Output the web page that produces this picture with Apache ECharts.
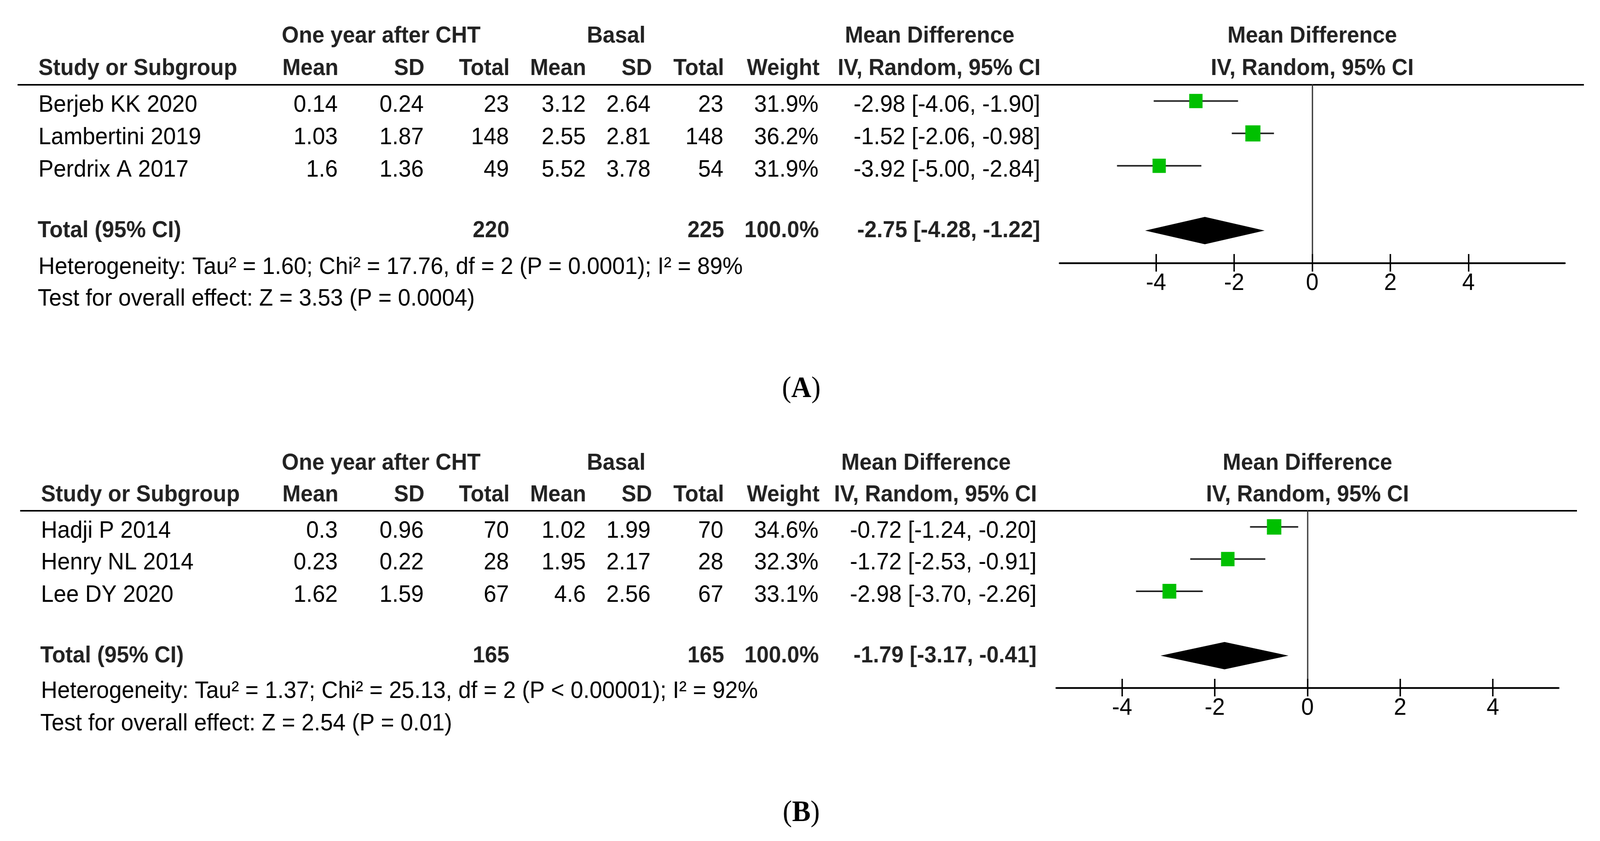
<!DOCTYPE html>
<html>
<head>
<meta charset="utf-8">
<script src="https://cdn.jsdelivr.net/npm/echarts@6/dist/echarts.min.js"></script>
<style>
html,body{margin:0;padding:0;background:#fff;overflow:hidden;}
#wrap{position:absolute;left:0;top:0;overflow:hidden;background:#fff;}
#c{position:absolute;left:0;top:0;width:4373px;height:2152px;transform-origin:0 0;}
</style>
</head>
<body>
<div id="wrap"><div id="c"></div></div>
<script>
// ---------------- DATA ----------------
// Panel A
const studiesA = ['Berjeb KK 2020', 'Lambertini 2019', 'Perdrix A 2017'];
const expMeanA = [0.14, 1.03, 1.6];
const expSDA = [0.24, 1.87, 1.36];
const expTotalA = [23, 148, 49];
const ctlMeanA = [3.12, 2.55, 5.52];
const ctlSDA = [2.64, 2.81, 3.78];
const ctlTotalA = [23, 148, 54];
const weightA = [31.9, 36.2, 31.9];
const mdA = [-2.98, -1.52, -3.92];
const loA = [-4.06, -2.06, -5.00];
const hiA = [-1.90, -0.98, -2.84];
const totalA = { exp: 220, ctl: 225, weight: 100.0, md: -2.75, lo: -4.28, hi: -1.22 };
const hetA = 'Heterogeneity: Tau\u00B2 = 1.60; Chi\u00B2 = 17.76, df = 2 (P = 0.0001); I\u00B2 = 89%';
const testA = 'Test for overall effect: Z = 3.53 (P = 0.0004)';

// Panel B
const studiesB = ['Hadji P 2014', 'Henry NL 2014', 'Lee DY 2020'];
const expMeanB = [0.3, 0.23, 1.62];
const expSDB = [0.96, 0.22, 1.59];
const expTotalB = [70, 28, 67];
const ctlMeanB = [1.02, 1.95, 4.6];
const ctlSDB = [1.99, 2.17, 2.56];
const ctlTotalB = [70, 28, 67];
const weightB = [34.6, 32.3, 33.1];
const mdB = [-0.72, -1.72, -2.98];
const loB = [-1.24, -2.53, -3.70];
const hiB = [-0.20, -0.91, -2.26];
const totalB = { exp: 165, ctl: 165, weight: 100.0, md: -1.79, lo: -3.17, hi: -0.41 };
const hetB = 'Heterogeneity: Tau\u00B2 = 1.37; Chi\u00B2 = 25.13, df = 2 (P < 0.00001); I\u00B2 = 92%';
const testB = 'Test for overall effect: Z = 2.54 (P = 0.01)';

// Axis ticks / labels
const axisTicks = [-4, -2, 0, 2, 4];
const axisRangeA = [-6.47, 6.47];
const axisRangeB = [-5.42, 5.42];

const headTop = ['One year after CHT', 'Basal', 'Mean Difference', 'Mean Difference'];
const headCols = ['Study or Subgroup', 'Mean', 'SD', 'Total', 'Mean', 'SD', 'Total', 'Weight', 'IV, Random, 95% CI', 'IV, Random, 95% CI'];
const totalLabel = 'Total (95% CI)';
const panelLabels = ['A', 'B'];

// ---------------- LAYOUT / STYLE ----------------
const W0 = 4373, H0 = 2152;
const vw = window.innerWidth || W0, vh = window.innerHeight || H0;
const SX = vw / W0, SY = vh / H0;   // fit the 4373x2152 design into the actual viewport

const FONT = '"Liberation Sans", Arial, Helvetica, sans-serif';
const SERIF = '"Liberation Serif", "Times New Roman", serif';
const NORMAL = '62px ' + FONT;
const BOLD = 'bold 60px ' + FONT;
const HEAD_COLOR = '#222';

const layouts = [
  { top: 217, head1: 92, head2: 175, rows: [269, 352, 435], total: 590, het: 684, test: 765,
    lineX1: 48, lineX2: 4329, studyX: 105, ciDx: 0, label: 996,
    grid: { left: 2896, top: 217, width: 1381, height: 456 } },
  { top: 1307, head1: 1185, head2: 1266, rows: [1359, 1440, 1523], total: 1678, het: 1769, test: 1852,
    lineX1: 55, lineX2: 4310, studyX: 112, ciDx: -10, label: 2081,
    grid: { left: 2887, top: 1307, width: 1373, height: 453 } }
];
const col = { mean1: 923, sd1: 1158, tot1: 1391, mean2: 1601, sd2: 1778, tot2: 1977, weight: 2237, ci: 2843 };

function T(x, y, s, bold, align) {
  return {
    type: 'text', x: x, y: y, silent: true,
    style: {
      text: s, font: bold ? BOLD : NORMAL, fill: bold ? HEAD_COLOR : '#000',
      align: align || 'left', verticalAlign: 'middle',
      textAlign: align || 'left', textVerticalAlign: 'middle'
    }
  };
}
function ciText(m, l, h) { return m.toFixed(2) + ' [' + l.toFixed(2) + ', ' + h.toFixed(2) + ']'; }

const panels = [
  { studies: studiesA, em: expMeanA, es: expSDA, et: expTotalA, cm: ctlMeanA, cs: ctlSDA, ct: ctlTotalA,
    w: weightA, md: mdA, lo: loA, hi: hiA, tot: totalA, het: hetA, test: testA, range: axisRangeA },
  { studies: studiesB, em: expMeanB, es: expSDB, et: expTotalB, cm: ctlMeanB, cs: ctlSDB, ct: ctlTotalB,
    w: weightB, md: mdB, lo: loB, hi: hiB, tot: totalB, het: hetB, test: testB, range: axisRangeB }
];

const graphics = [];
const grids = [], xAxes = [], yAxes = [], series = [];

panels.forEach(function (p, k) {
  const L = layouts[k];
  const fc = L.grid.left + L.grid.width / 2;
  // header row 1
  graphics.push(T(770, L.head1, headTop[0], true, 'left'));
  graphics.push(T(1684, L.head1, headTop[1], true, 'center'));
  graphics.push(T(2541 + L.ciDx, L.head1, headTop[2], true, 'center'));
  graphics.push(T(fc, L.head1, headTop[3], true, 'center'));
  // header row 2
  graphics.push(T(L.studyX, L.head2, headCols[0], true, 'left'));
  graphics.push(T(col.mean1 + 2, L.head2, headCols[1], true, 'right'));
  graphics.push(T(col.sd1 + 2, L.head2, headCols[2], true, 'right'));
  graphics.push(T(col.tot1 + 2, L.head2, headCols[3], true, 'right'));
  graphics.push(T(col.mean2 + 1, L.head2, headCols[4], true, 'right'));
  graphics.push(T(col.sd2 + 4, L.head2, headCols[5], true, 'right'));
  graphics.push(T(col.tot2 + 2, L.head2, headCols[6], true, 'right'));
  graphics.push(T(col.weight + 3, L.head2, headCols[7], true, 'right'));
  graphics.push(T(col.ci + 1 + L.ciDx, L.head2, headCols[8], true, 'right'));
  graphics.push(T(fc, L.head2, headCols[9], true, 'center'));
  // header rule
  graphics.push({ type: 'line', silent: true,
    shape: { x1: L.lineX1, y1: L.top, x2: L.lineX2, y2: L.top },
    style: { stroke: '#000', lineWidth: 4 } });
  // study rows
  p.studies.forEach(function (s, i) {
    const y = L.rows[i];
    graphics.push(T(L.studyX, y, s, false, 'left'));
    graphics.push(T(col.mean1, y, String(p.em[i]), false, 'right'));
    graphics.push(T(col.sd1, y, String(p.es[i]), false, 'right'));
    graphics.push(T(col.tot1, y, String(p.et[i]), false, 'right'));
    graphics.push(T(col.mean2, y, String(p.cm[i]), false, 'right'));
    graphics.push(T(col.sd2, y, String(p.cs[i]), false, 'right'));
    graphics.push(T(col.tot2, y, String(p.ct[i]), false, 'right'));
    graphics.push(T(col.weight, y, p.w[i].toFixed(1) + '%', false, 'right'));
    graphics.push(T(col.ci + L.ciDx, y, ciText(p.md[i], p.lo[i], p.hi[i]), false, 'right'));
  });
  // total row
  graphics.push(T(L.studyX - 2, L.total, totalLabel, true, 'left'));
  graphics.push(T(col.tot1 + 1, L.total, String(p.tot.exp), true, 'right'));
  graphics.push(T(col.tot2 + 2, L.total, String(p.tot.ctl), true, 'right'));
  graphics.push(T(col.weight + 1, L.total, p.tot.weight.toFixed(1) + '%', true, 'right'));
  graphics.push(T(col.ci + L.ciDx, L.total, ciText(p.tot.md, p.tot.lo, p.tot.hi), true, 'right'));
  // heterogeneity & overall effect
  graphics.push(T(L.studyX, L.het, p.het, false, 'left'));
  graphics.push(T(L.studyX - 2, L.test, p.test, false, 'left'));
  // panel label
  graphics.push({
    type: 'text', x: 2190, y: L.label, silent: true,
    style: {
      text: '{p|(}{b|' + panelLabels[k] + '}{p|)}',
      align: 'center', verticalAlign: 'middle', textAlign: 'center', textVerticalAlign: 'middle',
      font: '76px ' + SERIF, fill: '#000',
      rich: {
        p: { fontFamily: SERIF, fontSize: 76, fill: '#000' },
        b: { fontFamily: SERIF, fontSize: 76, fontWeight: 'bold', fill: '#000' }
      }
    }
  });

  // forest plot grid + axes
  grids.push({ containLabel: false, outerBoundsMode: 'none',
    left: L.grid.left, top: L.grid.top, width: L.grid.width, height: L.grid.height });
  xAxes.push({
    gridIndex: k, type: 'value', min: p.range[0], max: p.range[1], position: 'bottom',
    axisLine: { show: true, onZero: false, lineStyle: { color: '#000', width: 4.5 } },
    axisTick: { show: false },
    splitLine: { show: false },
    axisLabel: { show: true, customValues: axisTicks, margin: 52, verticalAlign: 'middle',
      fontSize: 62, fontFamily: FONT, color: '#000' }
  });
  xAxes.push({
    gridIndex: k, type: 'value', min: p.range[0], max: p.range[1], position: 'bottom', offset: 22,
    axisLine: { show: false, onZero: false },
    axisTick: { show: true, inside: true, length: 45, customValues: axisTicks,
      lineStyle: { color: '#000', width: 4 } },
    splitLine: { show: false },
    axisLabel: { show: false }
  });
  yAxes.push({
    gridIndex: k, type: 'value', inverse: true, min: -0.5, max: 5,
    axisLine: { show: true, onZero: true, lineStyle: { color: '#333', width: 3.5 } },
    axisTick: { show: false }, axisLabel: { show: false }, splitLine: { show: false }
  });

  const data = p.md.map(function (m, i) { return [m, p.lo[i], p.hi[i], i, p.w[i], 0]; });
  data.push([p.tot.md, p.tot.lo, p.tot.hi, 4, p.tot.weight, 1]);
  series.push({
    type: 'custom', xAxisIndex: k * 2, yAxisIndex: k, clip: false, silent: true,
    encode: { x: [0, 1, 2], y: 3 },
    data: data,
    z: 5,
    renderItem: function (params, api) {
      const m = api.value(0), l = api.value(1), h = api.value(2), r = api.value(3), w = api.value(4), kind = api.value(5);
      const pm = api.coord([m, r]), pl = api.coord([l, r]), ph = api.coord([h, r]);
      if (kind === 1) {
        const hh = 35;
        return { type: 'polygon', shape: { points: [[pl[0], pl[1]], [pm[0], pm[1] - hh], [ph[0], ph[1]], [pm[0], pm[1] + hh]] },
          style: { fill: '#000' } };
      }
      const s = w * 1.14;
      return { type: 'group', children: [
        { type: 'line', shape: { x1: pl[0], y1: pl[1], x2: ph[0], y2: ph[1] }, style: { stroke: '#222', lineWidth: 4 } },
        { type: 'rect', shape: { x: pm[0] - s / 2, y: pm[1] - s / 2, width: s, height: s }, style: { fill: '#00c000' } }
      ] };
    }
  });
});

const wrap = document.getElementById('wrap');
wrap.style.width = vw + 'px';
wrap.style.height = vh + 'px';
const el = document.getElementById('c');
el.style.transform = 'scale(' + SX + ',' + SY + ')';
const chart = echarts.init(el, null, { renderer: 'canvas', width: W0, height: H0 });
chart.setOption({
  animation: false,
  backgroundColor: '#fff',
  grid: grids,
  xAxis: xAxes,
  yAxis: yAxes,
  series: series,
  graphic: { elements: graphics }
});
</script>
</body>
</html>
